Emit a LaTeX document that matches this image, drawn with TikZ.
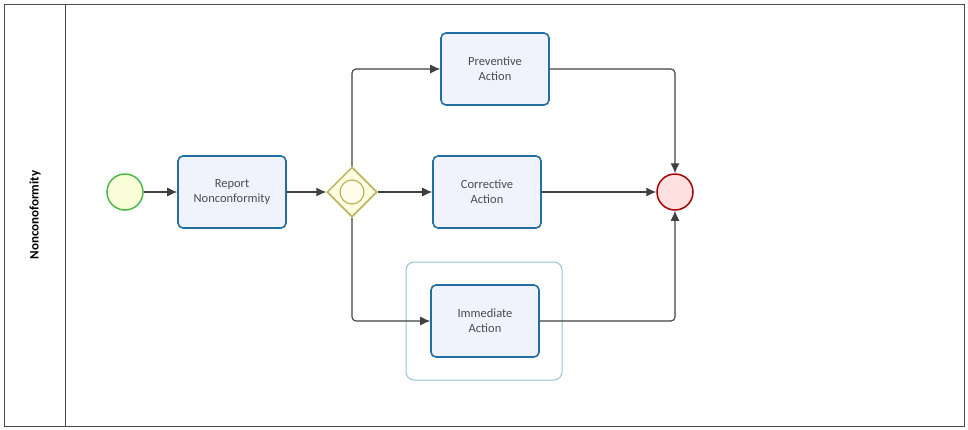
\documentclass[tikz,border=0pt]{standalone}
\usepackage{fontspec}
\setmainfont{Carlito}
\usetikzlibrary{shapes.geometric, positioning, arrows.meta}
\definecolor{taskline}{RGB}{35,110,160}
\definecolor{taskfill}{RGB}{240,243,252}
\definecolor{grouplink}{RGB}{150,195,210}

\begin{document}
\begin{tikzpicture}[x=1pt, y=-1pt, font=\fontsize{12.5}{15}\selectfont]
    % Define styles
    \tikzstyle{task} = [rectangle, rounded corners=5pt, draw=taskline, line width=1.6pt, fill=taskfill, text centered, align=center, minimum width=108pt, minimum height=72pt, text=black!70]
    \tikzstyle{event} = [circle, draw, line width=1.5pt, minimum size=36pt]
    \tikzstyle{flow} = [-{Latex[length=10pt, width=9pt]}, line width=1.1pt, draw=black!75]

    \useasboundingbox (0,0) rectangle (968,429);

    % Pool and lane
    \draw[black!70, line width=1pt] (4,4) rectangle (964,426);
    \draw[black!70, line width=1pt] (65,4) -- (65,426);
    \node[rotate=90, font=\fontsize{13}{15}\selectfont\bfseries] (lane) at (35,215) {Nonconoformity};

    % Group
    \draw[grouplink, line width=1pt, rounded corners=8pt] (406,262) rectangle (562,380);

    % Events and gateway
    \node[event, draw=green!60!black!70, fill=green!10!yellow!15] (start) at (125,192) {};
    \node[event, draw=red!65!black, fill=red!12] (end) at (675,192) {};
    \node[diamond, draw=yellow!60!black!80, line width=1.5pt, fill=yellow!12, minimum size=50pt, inner sep=0pt] (gate) at (352,192) {};
    \node[circle, draw=yellow!60!black!80, line width=1.2pt, fill=yellow!8, minimum size=24pt] (gatemark) at (gate) {};

    % Tasks
    \node[task] (report) at (232,192) {Report\\Nonconformity};
    \node[task] (preventive) at (495,69) {Preventive\\Action};
    \node[task] (corrective) at (487,192) {Corrective\\Action};
    \node[task] (immediate) at (485,321) {Immediate\\Action};

    % Flows
    \draw[flow] (start) -- (report);
    \draw[flow] (report) -- (gate);
    \draw[flow] (gate) -- (corrective);
    \draw[flow, rounded corners=4pt] (gate.north) |- (preventive);
    \draw[flow, rounded corners=4pt] (gate.south) |- (immediate);
    \draw[flow] (corrective) -- (end);
    \draw[flow, rounded corners=4pt] (preventive.east) -| (end.north);
    \draw[flow, rounded corners=4pt] (immediate.east) -| (end.south);
\end{tikzpicture}
\end{document}
